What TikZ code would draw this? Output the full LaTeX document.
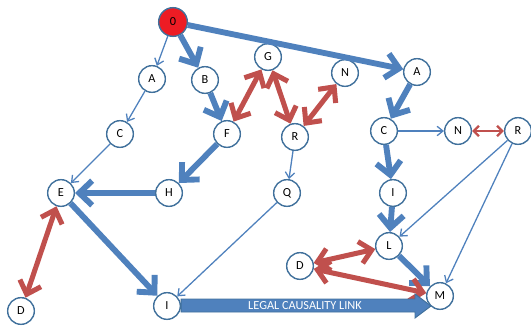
\documentclass[tikz,border=0pt]{standalone}
\usepackage{fontspec}
\setmainfont{Carlito}
\usetikzlibrary{arrows.meta}

\definecolor{linkblue}{HTML}{4F81BD}
\definecolor{rimblue}{HTML}{41719C}
\definecolor{linkred}{HTML}{C0504D}
\definecolor{rootred}{HTML}{ED1C24}

\begin{document}
\begin{tikzpicture}[x=0.03cm, y=-0.03cm,
    event/.style={circle, draw=rimblue, fill=white, line width=1.2pt,
        minimum size=0.8cm, inner sep=0pt, font=\fontsize{10.5}{12}\selectfont},
    root/.style={event, fill=rootred, minimum size=0.86cm},
    weak/.style={draw=linkblue, line width=1.1pt,
        -{Straight Barb[length=5pt, width=8pt]}},
    strong/.style={draw=linkblue, line width=5pt,
        -{Straight Barb[length=11pt, width=21pt]}},
    mutual/.style={draw=linkred, line width=4.3pt,
        {Straight Barb[length=10pt, width=19pt]}-{Straight Barb[length=10pt, width=19pt]}},
    mutualthin/.style={draw=linkred, line width=2pt,
        {Straight Barb[length=4.5pt, width=9pt]}-{Straight Barb[length=4.5pt, width=9pt]}}]
    \useasboundingbox (0,0) rectangle (531,329);

    % left branch
    \node [root]  (n0) at (173,22)  {0};
    \node [event] (aL) at (152,79)  {A};
    \node [event] (bL) at (205,80)  {B};
    \node [event] (cL) at (120,134) {C};
    \node [event] (f)  at (227,134) {F};
    \node [event] (g)  at (268,57)  {G};
    \node [event] (nM) at (345,73)  {N};
    \node [event] (rM) at (295,137) {R};
    \node [event] (h)  at (169,193) {H};
    \node [event] (e)  at (61,193)  {E};
    \node [event] (q)  at (287,193) {Q};
    \node [event] (dL) at (21,311)  {D};
    \node [event] (iL) at (167,306) {I};

    % right branch
    \node [event] (aR) at (417,72)  {A};
    \node [event] (cR) at (384,131) {C};
    \node [event] (nR) at (458,131) {N};
    \node [event] (rR) at (518,131) {R};
    \node [event] (iR) at (393,193) {I};
    \node [event] (l)  at (389,246) {L};
    \node [event] (dR) at (300,266) {D};
    \node [event] (m)  at (440,296) {M};

    % causal links
    \draw [weak] (n0) -- (aL);
    \draw [weak] (aL) -- (cL);
    \draw [weak] (cL) -- (e);
    \draw [weak] (rM) -- (q);
    \draw [weak] (q) -- (iL);
    \draw [weak] (cR) -- (nR);
    \draw [weak] (rR) -- (l);
    \draw [weak] (rR) -- (m);

    \draw [strong] (n0) -- (aR);
    \draw [strong] (n0) -- (bL);
    \draw [strong] (bL) -- (f);
    \draw [strong] (f) -- (h);
    \draw [strong] (h) -- (e);
    \draw [strong] (e) -- (iL);
    \draw [strong] (aR) -- (cR);
    \draw [strong] (cR) -- (iR);
    \draw [strong] (iR) -- (l);
    \draw [strong] (l) -- (m);

    % two-way links
    \draw [mutual] (f) -- (g);
    \draw [mutual] (g) -- (rM);
    \draw [mutual] (rM) -- (nM);
    \draw [mutual] (e) -- (dL);
    \draw [mutual] (l) -- (dR);
    \draw [mutual] (dR) -- (m);
    \draw [mutualthin] (nR) -- (rR);

    % legal link
    \filldraw [fill=linkblue, draw=rimblue, line width=0.8pt]
        (iL.east |- 0,299) -- (415,299) -- (415,294) -- (431,306)
        -- (415,318) -- (415,312) -- (iL.east |- 0,312) -- cycle;
    \node [text=white, font=\fontsize{10.5}{12}\selectfont] (legal) at (305,305.5)
        {LEGAL CAUSALITY LINK};
\end{tikzpicture}
\end{document}
